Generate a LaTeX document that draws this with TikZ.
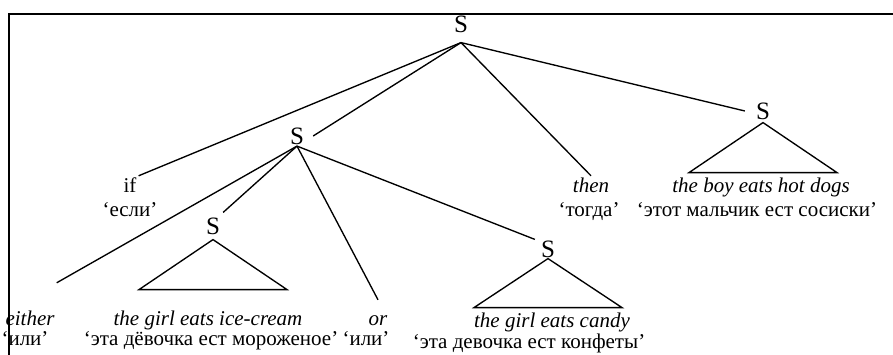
\documentclass[tikz,border=0pt]{standalone}
\usepackage{fontspec}
\setmainfont{Liberation Serif}

\begin{document}
\begin{tikzpicture}[
    x=1pt, y=-1pt,
    font=\fontsize{21}{25}\selectfont,
    cat/.style={font=\fontsize{25}{29}\selectfont, inner sep=0pt},
    word/.style={inner sep=2pt, text height=15pt, text depth=5pt},
    eng/.style={word, font=\fontsize{21}{25}\selectfont\itshape},
    branch/.style={line width=1.35pt},
    frame/.style={line width=2.2pt}
  ]
    \useasboundingbox (0,0) rectangle (893,355);

    \node[cat, inner ysep=10pt] (top) at (461,24) {S};
    \node[cat, inner xsep=9pt, inner ysep=1.5pt] (mid) at (297,136) {S};
    \node[cat, inner xsep=11pt, inner ysep=3pt] (rS) at (763,111) {S};
    \node[cat, inner xsep=3pt, inner ysep=5pt] (lS) at (213,226) {S};
    \node[cat, inner xsep=6pt, inner ysep=1pt] (rlS) at (548,249) {S};

    \node[word] (ifE) at (130,188) {if};
    \node[word] (ifR) at (130,212) {‘если’};
    \node[eng] (thenE) at (591,188) {then};
    \node[word] (thenR) at (589,212) {‘тогда’};
    \node[eng] (boyE) at (761,188) {the boy eats hot dogs};
    \node[word] (boyR) at (757,212) {‘этот мальчик ест сосиски’};

    \node[eng] (eitherE) at (30,320) {either};
    \node[word] (eitherR) at (25,340) {‘или’};
    \node[eng] (iceE) at (208,320) {the girl eats ice-cream};
    \node[word] (iceR) at (211,340) {‘эта дёвочка ест мороженое’};
    \node[eng] (orE) at (378,320) {or};
    \node[word] (orR) at (366,340) {‘или’};
    \node[eng] (candyE) at (552,322) {the girl eats candy};
    \node[word] (candyR) at (529,343) {‘эта девочка ест конфеты’};

    \draw[branch] (top.south) -- (ifE.north east);
    \draw[branch] (top.south) -- (mid.east);
    \draw[branch] (top.south) -- (thenE.north);
    \draw[branch] (top.south) -- (rS.west);

    \draw[branch] (mid.south) -- ([yshift=25pt]eitherE.north east);
    \draw[branch] (mid.south) -- (lS.north east);
    \draw[branch] (mid.south) -- ([yshift=8pt]orE.north);
    \draw[branch] (mid.south) -- (rlS.north west);

    \draw[branch] (rS.south) -- ++(-74,50) -- ++(148,0) -- cycle;
    \draw[branch] (lS.south) -- ++(-74,50) -- ++(148,0) -- cycle;
    \draw[branch] (rlS.south) -- ++(-74,49) -- ++(148,0) -- cycle;

    \draw[frame] (893,14) -- (9,14) -- (9,355);
  \end{tikzpicture}
\end{document}
